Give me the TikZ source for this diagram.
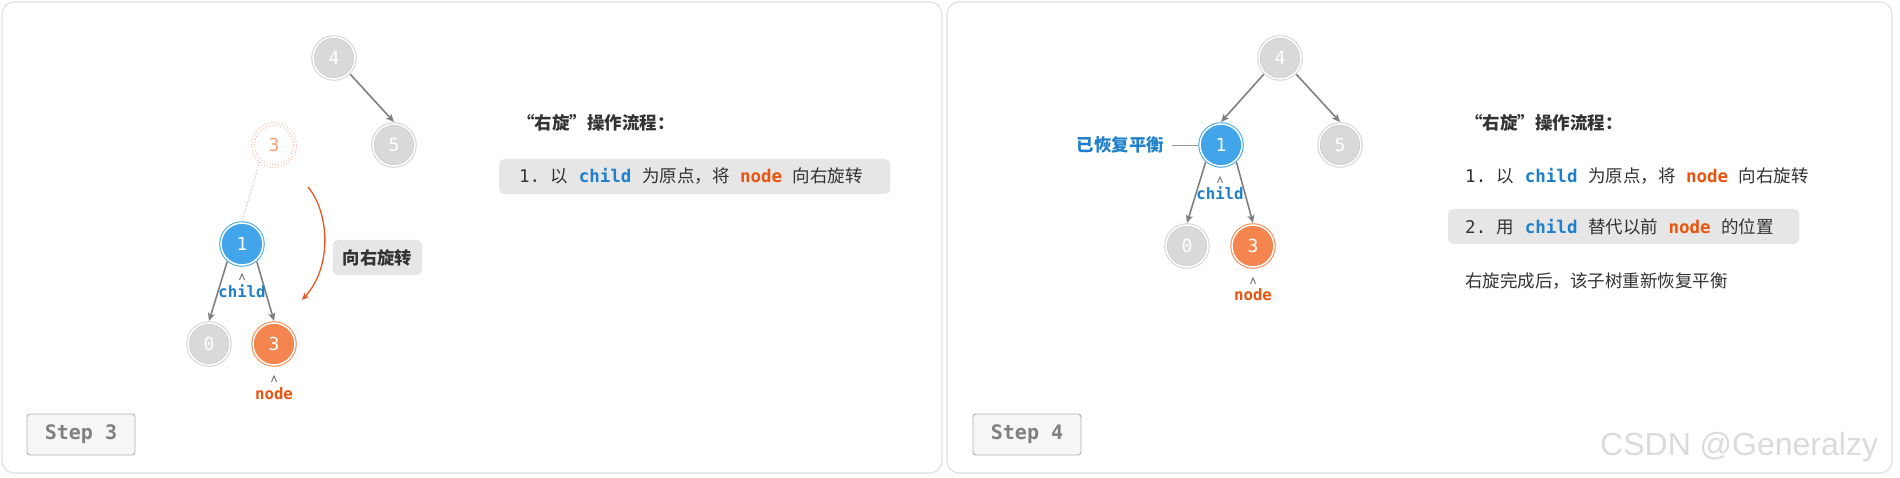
\documentclass[tikz,border=0pt]{standalone}
\usepackage{fontspec}
\setmainfont{Noto Sans CJK SC}
\setmonofont{DejaVu Sans Mono}
\newfontfamily\wmfont{Liberation Sans}
\usetikzlibrary{arrows.meta}
\definecolor{cblue}{HTML}{1E7FCB}
\definecolor{corange}{HTML}{E9540F}
\definecolor{nblue}{HTML}{42A5EA}
\definecolor{norange}{HTML}{F5854F}
\definecolor{ngray}{HTML}{D9D9D9}
\definecolor{ngring}{HTML}{D2D2D2}
\definecolor{ghostc}{HTML}{F7B394}
\definecolor{ghostt}{HTML}{F5A27E}
\definecolor{egray}{HTML}{808080}
\definecolor{tdark}{HTML}{333333}
\definecolor{boxfill}{HTML}{E6E6E6}
\definecolor{panelc}{HTML}{E0E0E0}
\definecolor{rotc}{HTML}{E9541F}
\newcommand\mychild{\textcolor{cblue}{\ttfamily\bfseries child}}
\newcommand\mynode{\textcolor{corange}{\ttfamily\bfseries node}}
\newcommand\msp{{\ttfamily\ }}
\begin{document}
\begin{tikzpicture}[x=1pt,y=-1pt,
  panel/.style={draw=panelc, line width=1.2pt, rounded corners=12pt, fill=white},
  tn/.style={circle, minimum size=42pt, inner sep=0pt, line width=1pt, double distance=1.5pt, outer sep=2pt, font=\ttfamily\fontsize{18}{18}\selectfont},
  gnode/.style={tn, fill=ngray, draw=ngring, double=white, text=white},
  bnode/.style={tn, fill=nblue, draw=nblue, double=white, text=white},
  onode/.style={tn, fill=norange, draw=norange, double=white, text=white},
  ghost/.style={circle, minimum size=45pt, inner sep=0pt, outer sep=0pt, draw=ghostc, dotted, line width=0.9pt, text=ghostt, font=\ttfamily\fontsize{18}{18}\selectfont},
  link/.style={draw=egray, line width=1.6pt, -{Stealth[length=8pt,width=7pt,inset=2pt]}},
  ghostline/.style={draw=gray!70, dotted, line width=0.8pt},
  caret/.style={draw=gray!90!black, line width=0.9pt},
  clbl/.style={inner sep=0pt, text=cblue, font=\ttfamily\bfseries\fontsize{15.7}{16}\selectfont},
  nlbl/.style={inner sep=0pt, text=corange, font=\ttfamily\bfseries\fontsize{15.7}{16}\selectfont},
  txt/.style={inner sep=0pt, anchor=west, text=tdark, font=\fontsize{17.5}{18}\selectfont},
  hbox/.style={rectangle, rounded corners=5pt, fill=boxfill, inner sep=0pt},
  stepbox/.style={rectangle, rounded corners=3pt, fill=gray!7, draw=gray!60, line width=0.9pt, minimum width=108pt, minimum height=41pt, inner sep=0pt, text=egray, font=\ttfamily\bfseries\fontsize{20}{20}\selectfont},
  rotarrow/.style={draw=rotc, line width=1.3pt, -{Stealth[length=7pt,width=6pt,inset=2pt]}}
]
\useasboundingbox (0,0) rectangle (1900,478);
\fill[white] (0,0) rectangle (1900,478);
% panels
\draw[panel] (2,2) rectangle (942,473);
\draw[panel] (947,2) rectangle (1892,473);

% ---------- Panel 1 ----------
\node[gnode] (p1n4) at (334,58) {4};
\node[gnode] (p1n5) at (394,145) {5};
\node[ghost] (p1g3) at (274,145) {3};
\draw[draw=ghostc, dotted, line width=0.9pt] (p1g3.center) circle[radius=19.5pt];
\node[bnode] (p1n1) at (242,244) {1};
\node[gnode] (p1n0) at (209,344) {0};
\node[onode] (p1n3) at (274,344) {3};

\draw[link] (p1n4.-45) -- (p1n5.north);
\draw[ghostline] (p1g3.-130) -- (p1n1.north);
\draw[link] (p1n1.-130) -- (p1n0.north);
\draw[link] (p1n1.-50) -- (p1n3.north);

\node[clbl] (p1cl) at (242,291) {child};
\coordinate (p1ct) at (242,274);
\draw[caret] (p1ct) ++(-2.5,6) -- (p1ct) -- ++(2.5,6);
\node[nlbl] (p1nl) at (274,394) {node};
\coordinate (p1nt) at (274,376);
\draw[caret] (p1nt) ++(-2.5,6) -- (p1nt) -- ++(2.5,6);

\coordinate (p1as) at (308,187);
\coordinate (p1ae) at (302,300);
\draw[rotarrow] (p1as) .. controls (329,212) and (333,266) .. (p1ae);
\node[hbox, minimum width=89pt, minimum height=35pt, text=tdark, font=\bfseries\fontsize{17.3}{18}\selectfont] (p1rot) at (377.5,257.5) {向右旋转};

\node[txt, font=\bfseries\fontsize{17.5}{18}\selectfont] (p1title) at (517,123) {“右旋”操作流程：};
\node[hbox, anchor=west, minimum width=391pt, minimum height=35pt] (p1box) at (499,176.5) {};
\node[txt] (p1l1) at (519,176.5) {{\ttfamily 1.\ }以\msp\mychild\msp 为原点，将\msp\mynode\msp 向右旋转};

\node[stepbox] (p1step) at (81,434.5) {Step 3};

% ---------- Panel 2 ----------
\node[gnode] (p2n4) at (1280,58) {4};
\node[bnode] (p2n1) at (1221,145) {1};
\node[gnode] (p2n5) at (1340,145) {5};
\node[gnode] (p2n0) at (1187,246) {0};
\node[onode] (p2n3) at (1253,246) {3};

\draw[link] (p2n4.-135) -- (p2n1.north);
\draw[link] (p2n4.-45) -- (p2n5.north);
\draw[link] (p2n1.-132) -- (p2n0.north);
\draw[link] (p2n1.-48) -- (p2n3.north);

\node[clbl] (p2cl) at (1220,193) {child};
\coordinate (p2ct) at (1220,177);
\draw[caret] (p2ct) ++(-2.5,6) -- (p2ct) -- ++(2.5,6);
\node[nlbl] (p2nl) at (1253,295) {node};
\coordinate (p2nt) at (1253,278);
\draw[caret] (p2nt) ++(-2.5,6) -- (p2nt) -- ++(2.5,6);

\node[inner sep=0pt, anchor=east, text=cblue, font=\bfseries\fontsize{17.4}{18}\selectfont] (p2bal) at (1164,145) {已恢复平衡};
\draw[draw=gray!80, line width=0.8pt] ([xshift=8pt]p2bal.east) -- (p2n1.west);

\node[txt, font=\bfseries\fontsize{17.5}{18}\selectfont] (p2title) at (1465,123) {“右旋”操作流程：};
\node[txt] (p2l1) at (1465,176.5) {{\ttfamily 1.\ }以\msp\mychild\msp 为原点，将\msp\mynode\msp 向右旋转};
\node[hbox, anchor=west, minimum width=351pt, minimum height=35pt] (p2box) at (1448,226.5) {};
\node[txt] (p2l2) at (1465,226.5) {{\ttfamily 2.\ }用\msp\mychild\msp 替代以前\msp\mynode\msp 的位置};
\node[txt] (p2l3) at (1465,281) {右旋完成后，该子树重新恢复平衡};

\node[stepbox] (p2step) at (1027,434.5) {Step 4};

% watermark
\node[inner sep=0pt, anchor=base west, text=gray!28, font=\wmfont\fontsize{32}{32}\selectfont] (wm) at (1600,455) {CSDN @Generalzy};
\end{tikzpicture}
\end{document}
